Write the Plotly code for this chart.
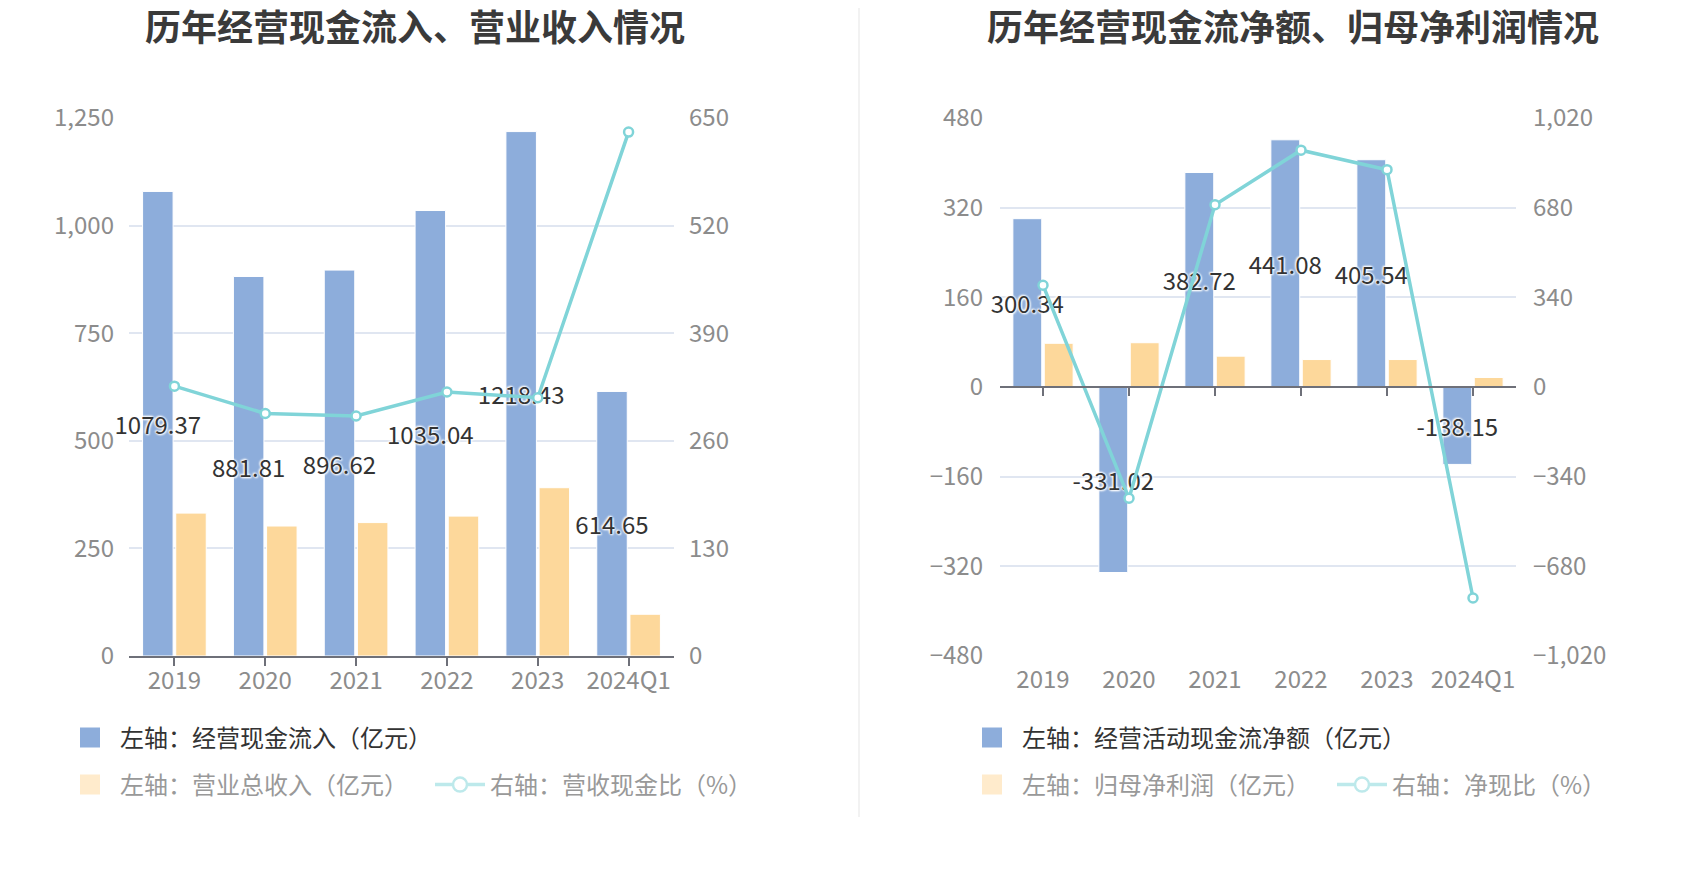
import plotly.graph_objects as go

# categories
years = ["2019", "2020", "2021", "2022", "2023", "2024Q1"]

# left chart
cash_in = [1079.37, 881.81, 896.62, 1035.04, 1218.43, 614.65]   # 经营现金流入 (亿元)
revenue = [332, 302, 310, 325, 391, 97]                         # 营业总收入 (亿元)
cash_ratio = [326, 293, 290, 319, 312, 633]                     # 营收现金比 (%)

# right chart
net_cf = [300.34, -331.02, 382.72, 441.08, 405.54, -138.15]     # 经营活动现金流净额 (亿元)
net_profit = [78, 79, 55, 49, 49, 17]                           # 归母净利润 (亿元)
net_ratio = [386, -422, 691, 898, 824, -800]                    # 净现比 (%)

BLUE = "#8DADDB"
ORANGE = "#FDD89B"
TEAL = "#80D4D8"
GRID = "#E0E6F1"
AXIS = "#6E7079"
LABEL = "#8C8C8C"
FONT = "Noto Sans CJK SC"

# page body has an 8px margin, so size and place everything in window pixels minus that
OFF = 8
W, H = 1700 - 2 * OFF, 874 - 2 * OFF

def px(x):
    return (x - OFF) / W

def py(y):
    return 1 - (y - OFF) / H

y_dom = [py(656), py(118)]
left_dom = [px(129), px(674)]
right_dom = [px(1000), px(1516)]

bar_text = dict(size=24, color="#333", family=FONT,
                shadow="0px 0px 2px #fff, 0px 0px 3px #fff, 1px 1px 2px #fff, -1px -1px 2px #fff")

fig = go.Figure()

# ---- left chart
fig.add_trace(go.Bar(x=years, y=cash_in, name="左轴：经营现金流入（亿元）", marker_color=BLUE,
                     marker_line=dict(color="#fff", width=1),
                     text=[f"{v:.2f}" for v in cash_in], textposition="inside",
                     insidetextanchor="middle", constraintext="none", textangle=0, cliponaxis=False,
                     textfont=bar_text, xaxis="x", yaxis="y", showlegend=False, hoverinfo="skip"))
fig.add_trace(go.Bar(x=years, y=revenue, name="左轴：营业总收入（亿元）", marker_color=ORANGE,
                     marker_line=dict(color="#fff", width=1),
                     xaxis="x", yaxis="y", showlegend=False, hoverinfo="skip"))
fig.add_trace(go.Scatter(x=years, y=cash_ratio, name="右轴：营收现金比（%）", mode="lines+markers",
                         line=dict(color=TEAL, width=3.5), cliponaxis=False,
                         marker=dict(size=9, color="#fff", line=dict(color=TEAL, width=2.5)),
                         xaxis="x", yaxis="y2", showlegend=False, hoverinfo="skip"))

# ---- right chart
fig.add_trace(go.Bar(x=years, y=net_cf, name="左轴：经营活动现金流净额（亿元）", marker_color=BLUE,
                     marker_line=dict(color="#fff", width=1),
                     text=[f"{v:.2f}" for v in net_cf], textposition="inside",
                     insidetextanchor="middle", constraintext="none", textangle=0, cliponaxis=False,
                     textfont=bar_text, xaxis="x2", yaxis="y3", showlegend=False, hoverinfo="skip"))
fig.add_trace(go.Bar(x=years, y=net_profit, name="左轴：归母净利润（亿元）", marker_color=ORANGE,
                     marker_line=dict(color="#fff", width=1),
                     xaxis="x2", yaxis="y3", showlegend=False, hoverinfo="skip"))
fig.add_trace(go.Scatter(x=years, y=net_ratio, name="右轴：净现比（%）", mode="lines+markers",
                         line=dict(color=TEAL, width=3.5), cliponaxis=False,
                         marker=dict(size=9, color="#fff", line=dict(color=TEAL, width=2.5)),
                         xaxis="x2", yaxis="y4", showlegend=False, hoverinfo="skip"))
# zero-line axis with ticks for the right chart
fig.add_trace(go.Scatter(x=years, y=[None] * 6, xaxis="x3", yaxis="y3", showlegend=False,
                         hoverinfo="skip"))

# legend-only entries
def box_entry(name, color, legend):
    return go.Scatter(x=[None], y=[None], name=name, mode="markers", xaxis="x", yaxis="y",
                      marker=dict(symbol="square", size=22, color=color,
                                  line=dict(color=color, width=4)),
                      legend=legend)

def line_entry(name, legend):
    return go.Scatter(x=[None], y=[None], name=name, mode="lines+markers", xaxis="x", yaxis="y2",
                      line=dict(color="#BDE9EB", width=3.5),
                      marker=dict(size=14, color="#fff", line=dict(color="#BDE9EB", width=2.5)),
                      legend=legend)

fig.add_trace(box_entry("左轴：经营现金流入（亿元）", BLUE, "legend"))
fig.add_trace(box_entry("左轴：营业总收入（亿元）", "#FFEBCC", "legend2"))
fig.add_trace(line_entry("右轴：营收现金比（%）", "legend2"))
fig.add_trace(box_entry("左轴：经营活动现金流净额（亿元）", BLUE, "legend3"))
fig.add_trace(box_entry("左轴：归母净利润（亿元）", "#FFEBCC", "legend4"))
fig.add_trace(line_entry("右轴：净现比（%）", "legend4"))

tickf = dict(size=24, color=LABEL, family=FONT)

def legend_at(x, y, color, entry=0):
    return dict(x=px(x), y=py(y), xanchor="left", yanchor="middle", orientation="h",
                font=dict(size=24, color=color, family=FONT), itemwidth=50,
                entrywidth=entry, entrywidthmode="pixels",
                itemsizing="trace", bgcolor="rgba(0,0,0,0)")

fig.update_layout(
    width=W, height=H, margin=dict(l=0, r=0, t=0, b=0, autoexpand=False),
    paper_bgcolor="#fff", plot_bgcolor="#fff",
    font=dict(family=FONT),
    barmode="group", bargap=0.27, bargroupgap=0.08,
    xaxis=dict(domain=left_dom, anchor="y", type="category", showline=True, linecolor=AXIS,
               linewidth=2, ticks="outside", ticklen=8, tickcolor=AXIS, tickwidth=1.5,
               tickfont=tickf, showgrid=False, ticklabelstandoff=-6, automargin=False),
    yaxis=dict(domain=y_dom, range=[0, 1250], dtick=250, tickformat=",", showgrid=True,
               gridcolor=GRID, gridwidth=1.5, zeroline=False, tickfont=tickf,
               ticklabelstandoff=14, automargin=False),
    yaxis2=dict(domain=y_dom, anchor="x", overlaying="y", side="right", range=[0, 650], dtick=130,
                showgrid=False, zeroline=False, tickfont=tickf, ticklabelstandoff=14,
                automargin=False),
    xaxis2=dict(domain=right_dom, anchor="y3", type="category", showline=False, ticks="",
                tickfont=tickf, showgrid=False, ticklabelstandoff=7, automargin=False),
    xaxis3=dict(domain=right_dom, anchor="free", overlaying="x2", matches="x2", type="category",
                position=(y_dom[0] + y_dom[1]) / 2, showline=True, linecolor=AXIS, linewidth=2,
                ticks="outside", ticklen=8, tickcolor=AXIS, tickwidth=1.5,
                showticklabels=False, showgrid=False, automargin=False),
    yaxis3=dict(domain=y_dom, anchor="x2", range=[-480, 480], dtick=160, showgrid=True,
                gridcolor=GRID, gridwidth=1.5, zeroline=False, tickfont=tickf,
                ticklabelstandoff=16, automargin=False),
    yaxis4=dict(domain=y_dom, anchor="x2", overlaying="y3", side="right", range=[-1020, 1020],
                dtick=340, tickformat=",", showgrid=False, zeroline=False, tickfont=tickf,
                ticklabelstandoff=16, automargin=False),
    legend=legend_at(60, 738, "#333"),
    legend2=legend_at(60, 785, "#999", 305),
    legend3=legend_at(962, 738, "#333"),
    legend4=legend_at(962, 785, "#999", 305),
    shapes=[dict(type="line", xref="paper", yref="paper", x0=px(859), x1=px(859),
                 y0=py(817), y1=1, line=dict(color="#EEEEEE", width=1.5))],
    annotations=[
        dict(text="<b>历年经营现金流入、营业收入情况</b>", x=px(415), y=py(25), xref="paper",
             yref="paper", showarrow=False, xanchor="center", yanchor="middle",
             font=dict(size=36, color="#3A3A3A", family=FONT)),
        dict(text="<b>历年经营现金流净额、归母净利润情况</b>", x=px(1293), y=py(25), xref="paper",
             yref="paper", showarrow=False, xanchor="center", yanchor="middle",
             font=dict(size=36, color="#3A3A3A", family=FONT)),
    ],
)

fig.write_html("out.html")
